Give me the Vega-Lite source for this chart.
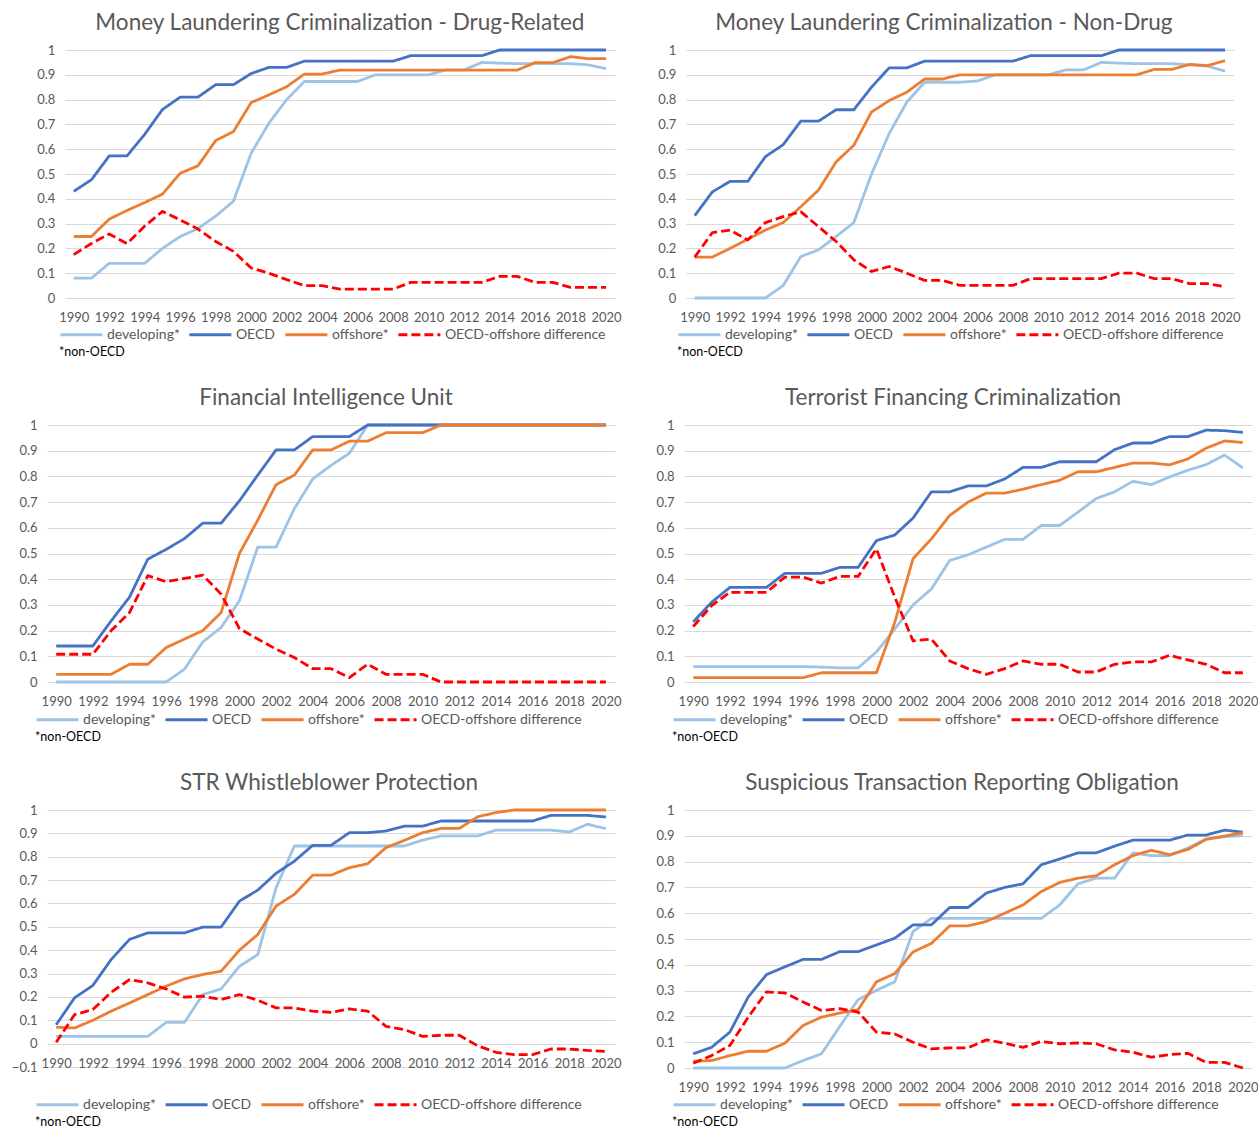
{
"$schema": "https://vega.github.io/schema/vega-lite/v6.json",
"background": "white",
"padding": {"left": 11, "top": 11, "right": 0, "bottom": 0},
"config": {
 "font": "Lato",
 "view": {"stroke": null},
 "axis": {"labelFont": "Lato", "labelFontSize": 13, "labelColor": "#595959", "gridColor": "#D9D9D9", "gridWidth": 1, "domain": false, "ticks": false, "labelFlush": false, "labelOverlap": false, "title": null},
 "axisX": {"labelPadding": 13, "grid": false},
 "axisY": {"labelPadding": 10, "minExtent": 33},
 "title": {"font": "Lato", "fontSize": 22.5, "fontWeight": "normal", "color": "#595959", "anchor": "middle", "frame": "group", "offset": 10},
 "legend": {"orient": "none", "direction": "horizontal", "symbolType": "M-1,0H5", "symbolSize": 196, "symbolStrokeWidth": 3, "labelFont": "Lato", "labelFontSize": 14, "labelColor": "#595959", "labelLimit": 300, "columnPadding": 8, "labelOffset": 31, "titleOrient": "bottom", "titleAnchor": "start", "titleFont": "Lato", "titleFontSize": 12.5, "titleFontWeight": "normal", "titleColor": "#000000", "titlePadding": 4, "padding": 0},
 "line": {"strokeWidth": 2.8, "strokeJoin": "round"}
},
"data": {"values": [
{"p":"A","year":1990,"dev":0.08,"oecd":0.43,"off":0.248,"diff":0.175},
{"p":"A","year":1991,"dev":0.08,"oecd":0.477,"off":0.248,"diff":0.22},
{"p":"A","year":1992,"dev":0.14,"oecd":0.573,"off":0.318,"diff":0.258},
{"p":"A","year":1993,"dev":0.14,"oecd":0.573,"off":0.353,"diff":0.219},
{"p":"A","year":1994,"dev":0.14,"oecd":0.66,"off":0.385,"diff":0.29},
{"p":"A","year":1995,"dev":0.2,"oecd":0.76,"off":0.419,"diff":0.349},
{"p":"A","year":1996,"dev":0.248,"oecd":0.81,"off":0.503,"diff":0.315},
{"p":"A","year":1997,"dev":0.28,"oecd":0.81,"off":0.533,"diff":0.278},
{"p":"A","year":1998,"dev":0.33,"oecd":0.86,"off":0.635,"diff":0.228},
{"p":"A","year":1999,"dev":0.39,"oecd":0.86,"off":0.671,"diff":0.188},
{"p":"A","year":2000,"dev":0.584,"oecd":0.905,"off":0.788,"diff":0.121},
{"p":"A","year":2001,"dev":0.705,"oecd":0.93,"off":0.819,"diff":0.1},
{"p":"A","year":2002,"dev":0.8,"oecd":0.93,"off":0.852,"diff":0.074},
{"p":"A","year":2003,"dev":0.873,"oecd":0.955,"off":0.903,"diff":0.05},
{"p":"A","year":2004,"dev":0.873,"oecd":0.955,"off":0.903,"diff":0.05},
{"p":"A","year":2005,"dev":0.873,"oecd":0.955,"off":0.919,"diff":0.036},
{"p":"A","year":2006,"dev":0.873,"oecd":0.955,"off":0.919,"diff":0.036},
{"p":"A","year":2007,"dev":0.9,"oecd":0.955,"off":0.919,"diff":0.036},
{"p":"A","year":2008,"dev":0.9,"oecd":0.955,"off":0.919,"diff":0.036},
{"p":"A","year":2009,"dev":0.9,"oecd":0.977,"off":0.919,"diff":0.063},
{"p":"A","year":2010,"dev":0.9,"oecd":0.977,"off":0.919,"diff":0.063},
{"p":"A","year":2011,"dev":0.92,"oecd":0.977,"off":0.919,"diff":0.063},
{"p":"A","year":2012,"dev":0.92,"oecd":0.977,"off":0.919,"diff":0.063},
{"p":"A","year":2013,"dev":0.95,"oecd":0.977,"off":0.919,"diff":0.063},
{"p":"A","year":2014,"dev":0.947,"oecd":1,"off":0.919,"diff":0.087},
{"p":"A","year":2015,"dev":0.945,"oecd":1,"off":0.919,"diff":0.087},
{"p":"A","year":2016,"dev":0.945,"oecd":1,"off":0.949,"diff":0.063},
{"p":"A","year":2017,"dev":0.945,"oecd":1,"off":0.949,"diff":0.063},
{"p":"A","year":2018,"dev":0.945,"oecd":1,"off":0.973,"diff":0.043},
{"p":"A","year":2019,"dev":0.94,"oecd":1,"off":0.965,"diff":0.043},
{"p":"A","year":2020,"dev":0.925,"oecd":1,"off":0.965,"diff":0.043},
{"p":"B","year":1990,"dev":0,"oecd":0.332,"off":0.165,"diff":0.165},
{"p":"B","year":1991,"dev":0,"oecd":0.428,"off":0.165,"diff":0.264},
{"p":"B","year":1992,"dev":0,"oecd":0.47,"off":0.2,"diff":0.274},
{"p":"B","year":1993,"dev":0,"oecd":0.47,"off":0.237,"diff":0.234},
{"p":"B","year":1994,"dev":0,"oecd":0.57,"off":0.274,"diff":0.304},
{"p":"B","year":1995,"dev":0.05,"oecd":0.618,"off":0.304,"diff":0.328},
{"p":"B","year":1996,"dev":0.167,"oecd":0.713,"off":0.368,"diff":0.348},
{"p":"B","year":1997,"dev":0.194,"oecd":0.713,"off":0.435,"diff":0.288},
{"p":"B","year":1998,"dev":0.248,"oecd":0.759,"off":0.549,"diff":0.228},
{"p":"B","year":1999,"dev":0.304,"oecd":0.759,"off":0.616,"diff":0.154},
{"p":"B","year":2000,"dev":0.5,"oecd":0.85,"off":0.75,"diff":0.107},
{"p":"B","year":2001,"dev":0.663,"oecd":0.928,"off":0.796,"diff":0.127},
{"p":"B","year":2002,"dev":0.79,"oecd":0.928,"off":0.83,"diff":0.1},
{"p":"B","year":2003,"dev":0.87,"oecd":0.955,"off":0.883,"diff":0.071},
{"p":"B","year":2004,"dev":0.87,"oecd":0.955,"off":0.883,"diff":0.071},
{"p":"B","year":2005,"dev":0.87,"oecd":0.955,"off":0.9,"diff":0.051},
{"p":"B","year":2006,"dev":0.875,"oecd":0.955,"off":0.9,"diff":0.051},
{"p":"B","year":2007,"dev":0.9,"oecd":0.955,"off":0.9,"diff":0.051},
{"p":"B","year":2008,"dev":0.9,"oecd":0.955,"off":0.9,"diff":0.051},
{"p":"B","year":2009,"dev":0.9,"oecd":0.977,"off":0.9,"diff":0.078},
{"p":"B","year":2010,"dev":0.9,"oecd":0.977,"off":0.9,"diff":0.078},
{"p":"B","year":2011,"dev":0.92,"oecd":0.977,"off":0.9,"diff":0.078},
{"p":"B","year":2012,"dev":0.92,"oecd":0.977,"off":0.9,"diff":0.078},
{"p":"B","year":2013,"dev":0.95,"oecd":0.977,"off":0.9,"diff":0.078},
{"p":"B","year":2014,"dev":0.947,"oecd":1,"off":0.9,"diff":0.1},
{"p":"B","year":2015,"dev":0.945,"oecd":1,"off":0.9,"diff":0.1},
{"p":"B","year":2016,"dev":0.945,"oecd":1,"off":0.922,"diff":0.078},
{"p":"B","year":2017,"dev":0.945,"oecd":1,"off":0.922,"diff":0.078},
{"p":"B","year":2018,"dev":0.94,"oecd":1,"off":0.942,"diff":0.058},
{"p":"B","year":2019,"dev":0.935,"oecd":1,"off":0.937,"diff":0.058},
{"p":"B","year":2020,"dev":0.915,"oecd":1,"off":0.957,"diff":0.045},
{"p":"C","year":1990,"dev":0,"oecd":0.14,"off":0.03,"diff":0.108},
{"p":"C","year":1991,"dev":0,"oecd":0.14,"off":0.03,"diff":0.108},
{"p":"C","year":1992,"dev":0,"oecd":0.14,"off":0.03,"diff":0.108},
{"p":"C","year":1993,"dev":0,"oecd":0.238,"off":0.03,"diff":0.2},
{"p":"C","year":1994,"dev":0,"oecd":0.33,"off":0.069,"diff":0.27},
{"p":"C","year":1995,"dev":0,"oecd":0.478,"off":0.069,"diff":0.414},
{"p":"C","year":1996,"dev":0,"oecd":0.516,"off":0.134,"diff":0.39},
{"p":"C","year":1997,"dev":0.05,"oecd":0.558,"off":0.167,"diff":0.403},
{"p":"C","year":1998,"dev":0.156,"oecd":0.618,"off":0.2,"diff":0.416},
{"p":"C","year":1999,"dev":0.212,"oecd":0.618,"off":0.27,"diff":0.342},
{"p":"C","year":2000,"dev":0.316,"oecd":0.705,"off":0.5,"diff":0.208},
{"p":"C","year":2001,"dev":0.525,"oecd":0.805,"off":0.63,"diff":0.167},
{"p":"C","year":2002,"dev":0.525,"oecd":0.903,"off":0.768,"diff":0.128},
{"p":"C","year":2003,"dev":0.675,"oecd":0.903,"off":0.805,"diff":0.095},
{"p":"C","year":2004,"dev":0.79,"oecd":0.955,"off":0.903,"diff":0.052},
{"p":"C","year":2005,"dev":0.843,"oecd":0.955,"off":0.903,"diff":0.052},
{"p":"C","year":2006,"dev":0.89,"oecd":0.955,"off":0.937,"diff":0.017},
{"p":"C","year":2007,"dev":1,"oecd":1,"off":0.937,"diff":0.069},
{"p":"C","year":2008,"dev":1,"oecd":1,"off":0.97,"diff":0.03},
{"p":"C","year":2009,"dev":1,"oecd":1,"off":0.97,"diff":0.03},
{"p":"C","year":2010,"dev":1,"oecd":1,"off":0.97,"diff":0.03},
{"p":"C","year":2011,"dev":1,"oecd":1,"off":1,"diff":0},
{"p":"C","year":2012,"dev":1,"oecd":1,"off":1,"diff":0},
{"p":"C","year":2013,"dev":1,"oecd":1,"off":1,"diff":0},
{"p":"C","year":2014,"dev":1,"oecd":1,"off":1,"diff":0},
{"p":"C","year":2015,"dev":1,"oecd":1,"off":1,"diff":0},
{"p":"C","year":2016,"dev":1,"oecd":1,"off":1,"diff":0},
{"p":"C","year":2017,"dev":1,"oecd":1,"off":1,"diff":0},
{"p":"C","year":2018,"dev":1,"oecd":1,"off":1,"diff":0},
{"p":"C","year":2019,"dev":1,"oecd":1,"off":1,"diff":0},
{"p":"C","year":2020,"dev":1,"oecd":1,"off":1,"diff":0},
{"p":"D","year":1990,"dev":0.06,"oecd":0.234,"off":0.017,"diff":0.216},
{"p":"D","year":1991,"dev":0.06,"oecd":0.31,"off":0.017,"diff":0.297},
{"p":"D","year":1992,"dev":0.06,"oecd":0.368,"off":0.017,"diff":0.349},
{"p":"D","year":1993,"dev":0.06,"oecd":0.368,"off":0.017,"diff":0.349},
{"p":"D","year":1994,"dev":0.06,"oecd":0.368,"off":0.017,"diff":0.349},
{"p":"D","year":1995,"dev":0.06,"oecd":0.423,"off":0.017,"diff":0.408},
{"p":"D","year":1996,"dev":0.06,"oecd":0.423,"off":0.017,"diff":0.408},
{"p":"D","year":1997,"dev":0.058,"oecd":0.423,"off":0.036,"diff":0.385},
{"p":"D","year":1998,"dev":0.055,"oecd":0.446,"off":0.036,"diff":0.411},
{"p":"D","year":1999,"dev":0.055,"oecd":0.446,"off":0.036,"diff":0.411},
{"p":"D","year":2000,"dev":0.117,"oecd":0.55,"off":0.036,"diff":0.518},
{"p":"D","year":2001,"dev":0.206,"oecd":0.572,"off":0.232,"diff":0.33},
{"p":"D","year":2002,"dev":0.3,"oecd":0.638,"off":0.48,"diff":0.16},
{"p":"D","year":2003,"dev":0.362,"oecd":0.74,"off":0.557,"diff":0.167},
{"p":"D","year":2004,"dev":0.473,"oecd":0.74,"off":0.648,"diff":0.082},
{"p":"D","year":2005,"dev":0.495,"oecd":0.763,"off":0.7,"diff":0.052},
{"p":"D","year":2006,"dev":0.525,"oecd":0.763,"off":0.735,"diff":0.03},
{"p":"D","year":2007,"dev":0.555,"oecd":0.79,"off":0.735,"diff":0.052},
{"p":"D","year":2008,"dev":0.555,"oecd":0.835,"off":0.75,"diff":0.082},
{"p":"D","year":2009,"dev":0.609,"oecd":0.835,"off":0.768,"diff":0.069},
{"p":"D","year":2010,"dev":0.609,"oecd":0.857,"off":0.785,"diff":0.069},
{"p":"D","year":2011,"dev":0.661,"oecd":0.857,"off":0.818,"diff":0.039},
{"p":"D","year":2012,"dev":0.714,"oecd":0.857,"off":0.818,"diff":0.039},
{"p":"D","year":2013,"dev":0.74,"oecd":0.904,"off":0.835,"diff":0.069},
{"p":"D","year":2014,"dev":0.781,"oecd":0.93,"off":0.852,"diff":0.078},
{"p":"D","year":2015,"dev":0.768,"oecd":0.93,"off":0.852,"diff":0.078},
{"p":"D","year":2016,"dev":0.798,"oecd":0.955,"off":0.845,"diff":0.104},
{"p":"D","year":2017,"dev":0.824,"oecd":0.955,"off":0.868,"diff":0.086},
{"p":"D","year":2018,"dev":0.846,"oecd":0.98,"off":0.91,"diff":0.069},
{"p":"D","year":2019,"dev":0.883,"oecd":0.978,"off":0.938,"diff":0.036},
{"p":"D","year":2020,"dev":0.833,"oecd":0.971,"off":0.932,"diff":0.036},
{"p":"E","year":1990,"dev":0.031,"oecd":0.081,"off":0.07,"diff":0.006},
{"p":"E","year":1991,"dev":0.031,"oecd":0.196,"off":0.067,"diff":0.124},
{"p":"E","year":1992,"dev":0.031,"oecd":0.249,"off":0.1,"diff":0.146},
{"p":"E","year":1993,"dev":0.031,"oecd":0.36,"off":0.139,"diff":0.22},
{"p":"E","year":1994,"dev":0.031,"oecd":0.446,"off":0.174,"diff":0.274},
{"p":"E","year":1995,"dev":0.031,"oecd":0.474,"off":0.21,"diff":0.26},
{"p":"E","year":1996,"dev":0.091,"oecd":0.474,"off":0.246,"diff":0.234},
{"p":"E","year":1997,"dev":0.091,"oecd":0.474,"off":0.277,"diff":0.199},
{"p":"E","year":1998,"dev":0.21,"oecd":0.499,"off":0.296,"diff":0.203},
{"p":"E","year":1999,"dev":0.234,"oecd":0.499,"off":0.31,"diff":0.189},
{"p":"E","year":2000,"dev":0.331,"oecd":0.61,"off":0.4,"diff":0.21},
{"p":"E","year":2001,"dev":0.381,"oecd":0.657,"off":0.467,"diff":0.186},
{"p":"E","year":2002,"dev":0.667,"oecd":0.729,"off":0.589,"diff":0.153},
{"p":"E","year":2003,"dev":0.846,"oecd":0.781,"off":0.639,"diff":0.153},
{"p":"E","year":2004,"dev":0.846,"oecd":0.849,"off":0.721,"diff":0.139},
{"p":"E","year":2005,"dev":0.846,"oecd":0.849,"off":0.721,"diff":0.134},
{"p":"E","year":2006,"dev":0.846,"oecd":0.903,"off":0.753,"diff":0.149},
{"p":"E","year":2007,"dev":0.846,"oecd":0.903,"off":0.77,"diff":0.139},
{"p":"E","year":2008,"dev":0.846,"oecd":0.91,"off":0.839,"diff":0.074},
{"p":"E","year":2009,"dev":0.846,"oecd":0.931,"off":0.87,"diff":0.06},
{"p":"E","year":2010,"dev":0.871,"oecd":0.931,"off":0.903,"diff":0.031},
{"p":"E","year":2011,"dev":0.889,"oecd":0.953,"off":0.921,"diff":0.036},
{"p":"E","year":2012,"dev":0.889,"oecd":0.953,"off":0.921,"diff":0.036},
{"p":"E","year":2013,"dev":0.889,"oecd":0.953,"off":0.971,"diff":-0.009},
{"p":"E","year":2014,"dev":0.914,"oecd":0.953,"off":0.989,"diff":-0.037},
{"p":"E","year":2015,"dev":0.914,"oecd":0.953,"off":1,"diff":-0.047},
{"p":"E","year":2016,"dev":0.914,"oecd":0.953,"off":1,"diff":-0.047},
{"p":"E","year":2017,"dev":0.914,"oecd":0.977,"off":1,"diff":-0.023},
{"p":"E","year":2018,"dev":0.906,"oecd":0.977,"off":1,"diff":-0.023},
{"p":"E","year":2019,"dev":0.939,"oecd":0.977,"off":1,"diff":-0.029},
{"p":"E","year":2020,"dev":0.92,"oecd":0.97,"off":1,"diff":-0.033},
{"p":"F","year":1990,"dev":0,"oecd":0.055,"off":0.026,"diff":0.019},
{"p":"F","year":1991,"dev":0,"oecd":0.08,"off":0.029,"diff":0.048},
{"p":"F","year":1992,"dev":0,"oecd":0.139,"off":0.048,"diff":0.087},
{"p":"F","year":1993,"dev":0,"oecd":0.275,"off":0.065,"diff":0.197},
{"p":"F","year":1994,"dev":0,"oecd":0.362,"off":0.065,"diff":0.295},
{"p":"F","year":1995,"dev":0,"oecd":0.392,"off":0.096,"diff":0.291},
{"p":"F","year":1996,"dev":0.029,"oecd":0.421,"off":0.165,"diff":0.256},
{"p":"F","year":1997,"dev":0.055,"oecd":0.421,"off":0.197,"diff":0.223},
{"p":"F","year":1998,"dev":0.161,"oecd":0.451,"off":0.213,"diff":0.23},
{"p":"F","year":1999,"dev":0.265,"oecd":0.451,"off":0.226,"diff":0.217},
{"p":"F","year":2000,"dev":0.301,"oecd":0.477,"off":0.334,"diff":0.139},
{"p":"F","year":2001,"dev":0.334,"oecd":0.503,"off":0.366,"diff":0.132},
{"p":"F","year":2002,"dev":0.529,"oecd":0.555,"off":0.45,"diff":0.1},
{"p":"F","year":2003,"dev":0.58,"oecd":0.555,"off":0.483,"diff":0.074},
{"p":"F","year":2004,"dev":0.58,"oecd":0.622,"off":0.551,"diff":0.078},
{"p":"F","year":2005,"dev":0.58,"oecd":0.622,"off":0.551,"diff":0.078},
{"p":"F","year":2006,"dev":0.58,"oecd":0.678,"off":0.568,"diff":0.109},
{"p":"F","year":2007,"dev":0.58,"oecd":0.7,"off":0.6,"diff":0.096},
{"p":"F","year":2008,"dev":0.58,"oecd":0.714,"off":0.632,"diff":0.08},
{"p":"F","year":2009,"dev":0.58,"oecd":0.788,"off":0.684,"diff":0.103},
{"p":"F","year":2010,"dev":0.632,"oecd":0.81,"off":0.719,"diff":0.094},
{"p":"F","year":2011,"dev":0.714,"oecd":0.834,"off":0.736,"diff":0.097},
{"p":"F","year":2012,"dev":0.736,"oecd":0.834,"off":0.745,"diff":0.094},
{"p":"F","year":2013,"dev":0.736,"oecd":0.86,"off":0.788,"diff":0.07},
{"p":"F","year":2014,"dev":0.834,"oecd":0.883,"off":0.823,"diff":0.061},
{"p":"F","year":2015,"dev":0.823,"oecd":0.883,"off":0.844,"diff":0.042},
{"p":"F","year":2016,"dev":0.823,"oecd":0.883,"off":0.827,"diff":0.052},
{"p":"F","year":2017,"dev":0.853,"oecd":0.903,"off":0.847,"diff":0.057},
{"p":"F","year":2018,"dev":0.888,"oecd":0.903,"off":0.886,"diff":0.022},
{"p":"F","year":2019,"dev":0.896,"oecd":0.922,"off":0.899,"diff":0.022},
{"p":"F","year":2020,"dev":0.901,"oecd":0.914,"off":0.912,"diff":0}
]},
"spacing": 27,
"center": true,
"resolve": {"scale": {"x": "independent", "y": "independent", "color": "independent", "strokeDash": "independent"}, "legend": {"color": "independent", "strokeDash": "independent"}},
"vconcat": [
{"spacing": 31,
 "resolve": {"scale": {"x": "independent", "y": "independent", "color": "independent", "strokeDash": "independent"}, "legend": {"color": "independent", "strokeDash": "independent"}},
 "hconcat": [
 {"width": 550, "height": 248, "title": {"text": "Money Laundering Criminalization - Drug-Related"},
  "transform": [{"filter": "datum.p == 'A'"}, {"fold": ["dev", "oecd", "off", "diff"], "as": ["series", "value"]}],
  "mark": {"type": "line"},
  "encoding": {
   "x": {"field": "year", "type": "quantitative", "scale": {"domain": [1989.5, 2020.5], "nice": false, "zero": false}, "axis": {"values": [1990,1992,1994,1996,1998,2000,2002,2004,2006,2008,2010,2012,2014,2016,2018,2020], "format": "d"}},
   "y": {"field": "value", "type": "quantitative", "scale": {"domain": [0, 1], "nice": false}, "axis": {"values": [0,0.1,0.2,0.3,0.4,0.5,0.6,0.7,0.8,0.9,1], "format": "~g"}},
   "color": {"field": "series", "type": "nominal", "scale": {"domain": ["dev","oecd","off","diff"], "range": ["#9DC3E6","#4472C4","#ED7D31","#FF0000"]}, "legend": {"title": "*non-OECD", "legendX": -6, "legendY": 276, "labelExpr": "datum.label=='dev'?'developing*':datum.label=='oecd'?'OECD':datum.label=='off'?'offshore*':'OECD-offshore difference'"}},
   "strokeDash": {"field": "series", "type": "nominal", "scale": {"domain": ["dev","oecd","off","diff"], "range": [[1,0],[1,0],[1,0],[9,4]]}, "legend": {"title": "*non-OECD", "legendX": -6, "legendY": 276, "labelExpr": "datum.label=='dev'?'developing*':datum.label=='oecd'?'OECD':datum.label=='off'?'offshore*':'OECD-offshore difference'"}}
  }},
 {"width": 548, "height": 248, "title": {"text": "Money Laundering Criminalization - Non-Drug", "dx": -16},
  "transform": [{"filter": "datum.p == 'B'"}, {"fold": ["dev", "oecd", "off", "diff"], "as": ["series", "value"]}],
  "mark": {"type": "line"},
  "encoding": {
   "x": {"field": "year", "type": "quantitative", "scale": {"domain": [1989.5, 2020.5], "nice": false, "zero": false}, "axis": {"values": [1990,1992,1994,1996,1998,2000,2002,2004,2006,2008,2010,2012,2014,2016,2018,2020], "format": "d"}},
   "y": {"field": "value", "type": "quantitative", "scale": {"domain": [0, 1], "nice": false}, "axis": {"values": [0,0.1,0.2,0.3,0.4,0.5,0.6,0.7,0.8,0.9,1], "format": "~g"}},
   "color": {"field": "series", "type": "nominal", "scale": {"domain": ["dev","oecd","off","diff"], "range": ["#9DC3E6","#4472C4","#ED7D31","#FF0000"]}, "legend": {"title": "*non-OECD", "legendX": -9, "legendY": 276, "labelExpr": "datum.label=='dev'?'developing*':datum.label=='oecd'?'OECD':datum.label=='off'?'offshore*':'OECD-offshore difference'"}},
   "strokeDash": {"field": "series", "type": "nominal", "scale": {"domain": ["dev","oecd","off","diff"], "range": [[1,0],[1,0],[1,0],[9,4]]}, "legend": {"title": "*non-OECD", "legendX": -9, "legendY": 276, "labelExpr": "datum.label=='dev'?'developing*':datum.label=='oecd'?'OECD':datum.label=='off'?'offshore*':'OECD-offshore difference'"}}
  }}
 ]},
{"spacing": 30,
 "resolve": {"scale": {"x": "independent", "y": "independent", "color": "independent", "strokeDash": "independent"}, "legend": {"color": "independent", "strokeDash": "independent"}},
 "hconcat": [
 {"width": 568, "height": 257, "title": {"text": "Financial Intelligence Unit", "dx": -5},
  "transform": [{"filter": "datum.p == 'C'"}, {"fold": ["dev", "oecd", "off", "diff"], "as": ["series", "value"]}],
  "mark": {"type": "line"},
  "encoding": {
   "x": {"field": "year", "type": "quantitative", "scale": {"domain": [1989.5, 2020.5], "nice": false, "zero": false}, "axis": {"values": [1990,1992,1994,1996,1998,2000,2002,2004,2006,2008,2010,2012,2014,2016,2018,2020], "format": "d"}},
   "y": {"field": "value", "type": "quantitative", "scale": {"domain": [0, 1], "nice": false}, "axis": {"values": [0,0.1,0.2,0.3,0.4,0.5,0.6,0.7,0.8,0.9,1], "format": "~g"}},
   "color": {"field": "series", "type": "nominal", "scale": {"domain": ["dev","oecd","off","diff"], "range": ["#9DC3E6","#4472C4","#ED7D31","#FF0000"]}, "legend": {"title": "*non-OECD", "legendX": -12, "legendY": 286, "labelExpr": "datum.label=='dev'?'developing*':datum.label=='oecd'?'OECD':datum.label=='off'?'offshore*':'OECD-offshore difference'"}},
   "strokeDash": {"field": "series", "type": "nominal", "scale": {"domain": ["dev","oecd","off","diff"], "range": [[1,0],[1,0],[1,0],[9,4]]}, "legend": {"title": "*non-OECD", "legendX": -12, "legendY": 286, "labelExpr": "datum.label=='dev'?'developing*':datum.label=='oecd'?'OECD':datum.label=='off'?'offshore*':'OECD-offshore difference'"}}
  }},
 {"width": 568, "height": 257, "title": {"text": "Terrorist Financing Criminalization", "dx": -15},
  "transform": [{"filter": "datum.p == 'D'"}, {"fold": ["dev", "oecd", "off", "diff"], "as": ["series", "value"]}],
  "mark": {"type": "line"},
  "encoding": {
   "x": {"field": "year", "type": "quantitative", "scale": {"domain": [1989.5, 2020.5], "nice": false, "zero": false}, "axis": {"values": [1990,1992,1994,1996,1998,2000,2002,2004,2006,2008,2010,2012,2014,2016,2018,2020], "format": "d"}},
   "y": {"field": "value", "type": "quantitative", "scale": {"domain": [0, 1], "nice": false}, "axis": {"values": [0,0.1,0.2,0.3,0.4,0.5,0.6,0.7,0.8,0.9,1], "format": "~g"}},
   "color": {"field": "series", "type": "nominal", "scale": {"domain": ["dev","oecd","off","diff"], "range": ["#9DC3E6","#4472C4","#ED7D31","#FF0000"]}, "legend": {"title": "*non-OECD", "legendX": -12, "legendY": 286, "labelExpr": "datum.label=='dev'?'developing*':datum.label=='oecd'?'OECD':datum.label=='off'?'offshore*':'OECD-offshore difference'"}},
   "strokeDash": {"field": "series", "type": "nominal", "scale": {"domain": ["dev","oecd","off","diff"], "range": [[1,0],[1,0],[1,0],[9,4]]}, "legend": {"title": "*non-OECD", "legendX": -12, "legendY": 286, "labelExpr": "datum.label=='dev'?'developing*':datum.label=='oecd'?'OECD':datum.label=='off'?'offshore*':'OECD-offshore difference'"}}
  }}
 ]},
{"spacing": 30,
 "resolve": {"scale": {"x": "independent", "y": "independent", "color": "independent", "strokeDash": "independent"}, "legend": {"color": "independent", "strokeDash": "independent"}},
 "hconcat": [
 {"width": 568, "height": 257, "title": {"text": "STR Whistleblower Protection", "dx": -2},
  "transform": [{"filter": "datum.p == 'E'"}, {"fold": ["dev", "oecd", "off", "diff"], "as": ["series", "value"]}],
  "mark": {"type": "line"},
  "encoding": {
   "x": {"field": "year", "type": "quantitative", "scale": {"domain": [1989.5, 2020.5], "nice": false, "zero": false}, "axis": {"values": [1990,1992,1994,1996,1998,2000,2002,2004,2006,2008,2010,2012,2014,2016,2018,2020], "format": "d", "offset": -23}},
   "y": {"field": "value", "type": "quantitative", "scale": {"domain": [-0.1, 1], "nice": false}, "axis": {"values": [-0.1,0,0.1,0.2,0.3,0.4,0.5,0.6,0.7,0.8,0.9,1], "format": "~g"}},
   "color": {"field": "series", "type": "nominal", "scale": {"domain": ["dev","oecd","off","diff"], "range": ["#9DC3E6","#4472C4","#ED7D31","#FF0000"]}, "legend": {"title": "*non-OECD", "legendX": -12, "legendY": 286, "labelExpr": "datum.label=='dev'?'developing*':datum.label=='oecd'?'OECD':datum.label=='off'?'offshore*':'OECD-offshore difference'"}},
   "strokeDash": {"field": "series", "type": "nominal", "scale": {"domain": ["dev","oecd","off","diff"], "range": [[1,0],[1,0],[1,0],[9,4]]}, "legend": {"title": "*non-OECD", "legendX": -12, "legendY": 286, "labelExpr": "datum.label=='dev'?'developing*':datum.label=='oecd'?'OECD':datum.label=='off'?'offshore*':'OECD-offshore difference'"}}
  }},
 {"width": 568, "height": 258, "title": {"text": "Suspicious Transaction Reporting Obligation", "dx": -6},
  "transform": [{"filter": "datum.p == 'F'"}, {"fold": ["dev", "oecd", "off", "diff"], "as": ["series", "value"]}],
  "mark": {"type": "line"},
  "encoding": {
   "x": {"field": "year", "type": "quantitative", "scale": {"domain": [1989.5, 2020.5], "nice": false, "zero": false}, "axis": {"values": [1990,1992,1994,1996,1998,2000,2002,2004,2006,2008,2010,2012,2014,2016,2018,2020], "format": "d"}},
   "y": {"field": "value", "type": "quantitative", "scale": {"domain": [0, 1], "nice": false}, "axis": {"values": [0,0.1,0.2,0.3,0.4,0.5,0.6,0.7,0.8,0.9,1], "format": "~g"}},
   "color": {"field": "series", "type": "nominal", "scale": {"domain": ["dev","oecd","off","diff"], "range": ["#9DC3E6","#4472C4","#ED7D31","#FF0000"]}, "legend": {"title": "*non-OECD", "legendX": -12, "legendY": 286, "labelExpr": "datum.label=='dev'?'developing*':datum.label=='oecd'?'OECD':datum.label=='off'?'offshore*':'OECD-offshore difference'"}},
   "strokeDash": {"field": "series", "type": "nominal", "scale": {"domain": ["dev","oecd","off","diff"], "range": [[1,0],[1,0],[1,0],[9,4]]}, "legend": {"title": "*non-OECD", "legendX": -12, "legendY": 286, "labelExpr": "datum.label=='dev'?'developing*':datum.label=='oecd'?'OECD':datum.label=='off'?'offshore*':'OECD-offshore difference'"}}
  }}
 ]}
]
}
